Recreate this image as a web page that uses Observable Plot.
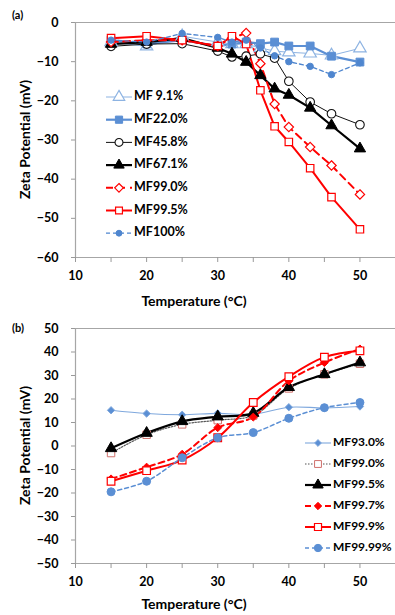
<!DOCTYPE html>
<html><head><meta charset="utf-8">
<script src="https://cdn.jsdelivr.net/npm/d3@7"></script>
<script src="https://cdn.jsdelivr.net/npm/@observablehq/plot@0.6"></script>
<style>
body{margin:0;background:#fff;}
#wrap{width:395px;}
svg{display:block;}
</style></head><body><div id="wrap"></div>
<script>
// ---------- Panel (a) data ----------
const tempsA = [15, 20, 25, 30, 32, 34, 36, 38, 40, 43, 46, 50];
const seriesA = ["MF 9.1%", "MF22.0%", "MF45.8%", "MF67.1%", "MF99.0%", "MF99.5%", "MF100%"];
const mf9_1  = [-5.0, -6.1, -3.5, -5.0, -5.5, -5.5, -6.5, -7.3, -7.6, -7.9, -8.4, -6.6];
const mf22_0 = [-4.5, -5.5, -4.5, -6.0, -5.5, -5.0, -5.4, -5.0, -6.0, -6.0, -8.6, -10.1];
const mf45_8 = [-6.1, -5.5, -5.4, -7.3, -8.8, -8.6, -8.0, -9.1, -15.0, -20.3, -23.3, -26.1];
const mf67_1 = [-5.5, -5.0, -4.0, -6.5, -8.0, -10.1, -13.5, -16.9, -18.5, -21.8, -26.3, -32.2];
const mf99_0 = [-5.0, -4.5, -4.5, -6.0, -4.0, -2.7, -10.5, -20.8, -26.7, -31.8, -36.5, -43.9];
const mf99_5 = [-4.0, -3.5, -4.5, -6.0, -3.5, -5.5, -17.3, -26.5, -30.5, -37.2, -44.6, -52.8];
const mf100  = [-4.5, -5.0, -2.8, -3.8, -5.0, -4.5, -6.5, -8.5, -10.0, -11.2, -13.3, -10.3];
const valuesA = [mf9_1, mf22_0, mf45_8, mf67_1, mf99_0, mf99_5, mf100];

// ---------- Panel (b) data ----------
const tempsB = [15, 20, 25, 30, 35, 40, 45, 50];
const seriesB = ["MF93.0%", "MF99.0%", "MF99.5%", "MF99.7%", "MF99.9%", "MF99.99%"];
const b93_0  = [15.2, 13.8, 13.3, 13.9, 13.5, 16.5, 16.2, 16.8];
const b99_0  = [-3.0, 4.8, 9.2, 11.0, 13.0, 24.5, 30.5, 35.0];
const b99_5  = [-1.0, 5.5, 10.5, 12.5, 14.0, 25.0, 30.5, 35.5];
const b99_7  = [-14.0, -9.0, -3.5, 7.8, 12.3, 27.7, 35.5, 41.3];
const b99_9  = [-15.0, -10.5, -6.0, 3.5, 18.5, 29.5, 37.8, 40.5];
const b99_99 = [-19.5, -15.0, -5.0, 3.5, 5.7, 11.8, 16.3, 18.5];
const valuesB = [b93_0, b99_0, b99_5, b99_7, b99_9, b99_99];

// ---------- Axes ----------
const xDomain = [10, 55];
const xTicks = [10, 15, 20, 25, 30, 35, 40, 45, 50, 55];
const xTickLabels = [10, 20, 30, 40, 50];
const yDomainA = [-60, 0];
const yTicksA = [0, -10, -20, -30, -40, -50, -60];
const yDomainB = [-50, 50];
const yTicksB = [50, 40, 30, 20, 10, 0, -10, -20, -30, -40, -50];
const xTitle = "Temperature (\u00B0C)";
const yTitle = "Zeta Potential (mV)";

// ---------- Styles ----------
const styleA = {
  "MF 9.1%": {stroke: "#8db3e2", sw: 1, dash: null, symbol: "triangle", fill: "white", r: 4.6, msw: 1.2},
  "MF22.0%": {stroke: "#5b8fd4", sw: 2.2, dash: null, symbol: "square", fill: "#5b8fd4", r: 4.4, msw: 1},
  "MF45.8%": {stroke: "#111", sw: 1, dash: null, symbol: "circle", fill: "white", r: 4.3, msw: 1.1},
  "MF67.1%": {stroke: "#000", sw: 2.2, dash: null, symbol: "triangle", fill: "#000", r: 4.2, msw: 1},
  "MF99.0%": {stroke: "#ff0000", sw: 2, dash: "7,5", symbol: "diamond2", fill: "white", r: 4.2, msw: 1.2},
  "MF99.5%": {stroke: "#ff0000", sw: 2, dash: null, symbol: "square", fill: "white", r: 4.2, msw: 1.2},
  "MF100%":  {stroke: "#4f86cf", sw: 1.3, dash: "4,3", symbol: "circle", fill: "#4f86cf", r: 3.2, msw: 1}
};
const styleB = {
  "MF93.0%":  {stroke: "#7fa8dd", sw: 1.1, dash: null, symbol: "diamond2", fill: "#5b8fd4", r: 3.3, msw: 1},
  "MF99.0%":  {stroke: "#555", sw: 1.2, dash: "1.5,1.5", symbol: "square", fill: "white", r: 4.2, msw: 1, mstroke: "#d0706c"},
  "MF99.5%":  {stroke: "#000", sw: 2.2, dash: null, symbol: "triangle", fill: "#000", r: 4.2, msw: 1},
  "MF99.7%":  {stroke: "#ff0000", sw: 2, dash: "6,4", symbol: "diamond2", fill: "#ff0000", r: 3.6, msw: 1},
  "MF99.9%":  {stroke: "#ff0000", sw: 2, dash: null, symbol: "square", fill: "white", r: 4.3, msw: 1.2},
  "MF99.99%": {stroke: "#5b8fd4", sw: 1.5, dash: "4,3", symbol: "circle", fill: "#5b8fd4", r: 4, msw: 1}
};

const FONT = "Lato, 'Open Sans', 'DejaVu Sans', sans-serif";

function table(temps, names, values) {
  const rows = [];
  names.forEach((n, i) => temps.forEach((t, j) => rows.push({series: n, T: t, v: values[i][j]})));
  return rows;
}

function seriesMarks(rows, names, styles, curve) {
  const marks = [];
  for (const n of names) {
    const s = styles[n];
    const d = rows.filter(r => r.series === n);
    marks.push(Plot.line(d, {x: "T", y: "v", stroke: s.stroke, strokeWidth: s.sw,
      strokeDasharray: s.dash || undefined, curve}));
  }
  for (const n of names) {
    const s = styles[n];
    const d = rows.filter(r => r.series === n);
    marks.push(Plot.dot(d, {x: "T", y: "v", symbol: () => s.symbol, r: s.r, fill: s.fill,
      stroke: s.mstroke || s.stroke, strokeWidth: s.msw}));
  }
  return marks;
}

function makePanel({rows, names, styles, yDomain, yTicks, height, marginTop, marginBottom, curve}) {
  return Plot.plot({
    width: 395, height, marginLeft: 75, marginRight: 0, marginTop, marginBottom,
    style: {fontFamily: FONT, fontSize: "12.5px", fontWeight: "bold", background: "white", overflow: "visible"},
    x: {domain: xDomain},
    y: {domain: yDomain},
    marks: [
      Plot.ruleX([xDomain[0]], {stroke: "#a6a6a6", strokeWidth: 1.2}),
      Plot.ruleY([yDomain[0], yDomain[1]], {stroke: "#a6a6a6", strokeWidth: 1.2}),
      Plot.axisX({ticks: xTicks, tickFormat: d => xTickLabels.includes(d) ? d : "", tickSize: 5,
        tickPadding: 9, stroke: "#999", label: null}),
      Plot.axisY({ticks: yTicks, tickSize: 4, tickPadding: 13, stroke: "#999", label: null}),
      ...seriesMarks(rows, names, styles, curve)
    ]
  });
}

function addDecor(svg, {tag, tagY, plotTop, plotBottom, xTitleY, names, styles, legendX, legendY, legendStep, legendFont}) {
  const g = d3.select(svg);
  g.append("text").attr("x", 12).attr("y", tagY).attr("text-anchor", "start").attr("font-size", 11)
    .attr("font-weight", "bold").attr("font-family", FONT).text(tag);
  g.append("text").attr("transform", `translate(26,${(plotTop + plotBottom) / 2}) rotate(-90)`)
    .attr("text-anchor", "middle").attr("dominant-baseline", "middle").attr("font-size", 14)
    .attr("font-weight", "bold").attr("font-family", FONT).text(yTitle);
  g.append("text").attr("x", 194).attr("y", xTitleY).attr("text-anchor", "middle").attr("font-size", 14)
    .attr("font-weight", "bold").attr("font-family", FONT).text(xTitle);
  const lg = g.append("g").attr("text-anchor", "start");
  const symMap = {triangle: d3.symbolTriangle, square: d3.symbolSquare, circle: d3.symbolCircle, diamond2: d3.symbolDiamond2};
  names.forEach((n, i) => {
    const s = styles[n];
    const y = legendY + i * legendStep;
    lg.append("line").attr("x1", legendX).attr("x2", legendX + 26).attr("y1", y).attr("y2", y)
      .attr("stroke", s.stroke).attr("stroke-width", s.sw).attr("stroke-dasharray", s.dash);
    lg.append("path").attr("transform", `translate(${legendX + 13},${y})`)
      .attr("d", d3.symbol(symMap[s.symbol], Math.PI * s.r * s.r * 0.85)())
      .attr("fill", s.fill).attr("stroke", s.mstroke || s.stroke).attr("stroke-width", s.msw);
    lg.append("text").attr("x", legendX + 28).attr("y", y).attr("text-anchor", "start")
      .attr("dominant-baseline", "middle")
      .attr("font-size", legendFont).attr("font-weight", "bold").attr("font-family", FONT).text(n);
  });
}

const wrap = document.getElementById("wrap");
const svgA = makePanel({rows: table(tempsA, seriesA, valuesA), names: seriesA, styles: styleA,
  yDomain: yDomainA, yTicks: yTicksA, height: 310, marginTop: 22, marginBottom: 53, curve: "linear"});
addDecor(svgA, {tag: "(a)", tagY: 19, plotTop: 22, plotBottom: 257, xTitleY: 306, names: seriesA, styles: styleA,
  legendX: 106, legendY: 97, legendStep: 22.7, legendFont: 12.5});
wrap.appendChild(svgA);

const svgB = makePanel({rows: table(tempsB, seriesB, valuesB), names: seriesB, styles: styleB,
  yDomain: yDomainB, yTicks: yTicksB, height: 305, marginTop: 18, marginBottom: 52, curve: "catmull-rom"});
addDecor(svgB, {tag: "(b)", tagY: 22, plotTop: 18, plotBottom: 253, xTitleY: 299, names: seriesB, styles: styleB,
  legendX: 305, legendY: 133, legendStep: 21, legendFont: 12});
wrap.appendChild(svgB);
</script></body></html>
